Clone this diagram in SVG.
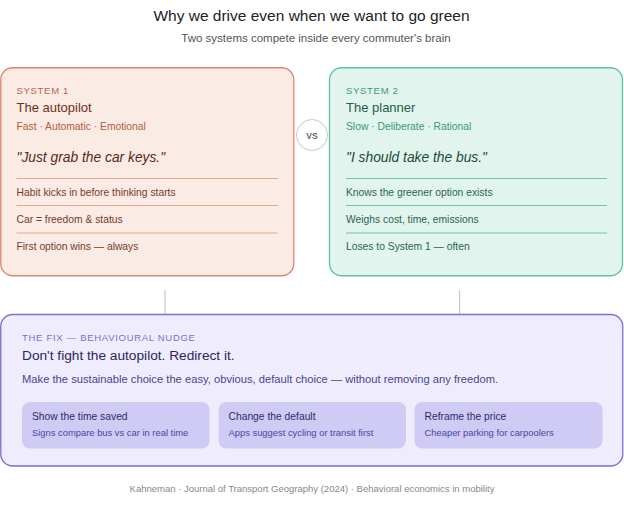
<svg xmlns="http://www.w3.org/2000/svg" width="624" height="517" viewBox="0 0 624 517">
<style>
text{font-family:"Liberation Sans",Arial,sans-serif;}
.title{font-size:15.5px;fill:#222;}
.sub{font-size:11.5px;fill:#555;}
.lbl{font-size:9.5px;letter-spacing:0.7px;}
.h{font-size:13px;}
.tag{font-size:10.3px;}
.q{font-size:13.8px;font-style:italic;}
.it{font-size:10.3px;}
.foot{font-size:9.5px;fill:#888;}
.s1 .lbl{fill:#B8664F;} .s1 .h{fill:#6E3020;} .s1 .tag{fill:#B95A3E;} .s1 .q{fill:#5A2819;} .s1 .it{fill:#7A3A28;} .s1 line{stroke:#EBA58F;stroke-width:1;}
.s2 .lbl{fill:#3D9A78;} .s2 .h{fill:#1E5E48;} .s2 .tag{fill:#3A9A76;} .s2 .q{fill:#1C4A3A;} .s2 .it{fill:#2A6450;} .s2 line{stroke:#6CC7A3;stroke-width:1;}
.fx .lbl{fill:#7B6FD0;} .fx .h{fill:#2C2660;font-size:13.7px;} .fx .body{font-size:11.2px;fill:#4A4390;}
.card{fill:#CFCBF5;}
.ct{font-size:10.3px;fill:#2F2A6A;}
.cs{font-size:9.4px;fill:#4B46A0;}
.conn line{stroke:#C8C8C8;stroke-width:1.2;}
</style>
<rect width="624" height="517" fill="#fff"/>
<text class="title" x="311.5" y="21" text-anchor="middle">Why we drive even when we want to go green</text>
<text class="sub" x="316" y="42" text-anchor="middle">Two systems compete inside every commuter's brain</text>

<g id="connectors" class="conn">
<line x1="165" y1="290" x2="165" y2="314"/>
<line x1="459.5" y1="290" x2="459.5" y2="314"/>
</g>

<g id="system1" class="s1">
<rect x="0.75" y="67.75" width="293" height="208" rx="12" fill="#FAEBE5" stroke="#E3836A" stroke-width="1.3"/>
<text class="lbl" x="16.5" y="94">SYSTEM 1</text>
<text class="h" x="16.5" y="112">The autopilot</text>
<text class="tag" x="16.5" y="130">Fast · Automatic · Emotional</text>
<text class="q" x="16.5" y="162">"Just grab the car keys."</text>
<line x1="16.5" y1="178.5" x2="278" y2="178.5"/>
<text class="it" x="16.5" y="196">Habit kicks in before thinking starts</text>
<line x1="16.5" y1="205.5" x2="278" y2="205.5"/>
<text class="it" x="16.5" y="223">Car = freedom &amp; status</text>
<line x1="16.5" y1="233" x2="278" y2="233"/>
<text class="it" x="16.5" y="250">First option wins — always</text>
</g>

<g id="vs">
<circle cx="312" cy="135" r="15.5" fill="#fff" stroke="#C8C8C8" stroke-width="1"/>
<text x="312" y="138.5" text-anchor="middle" font-size="8.5" font-weight="bold" fill="#666">VS</text>
</g>

<g id="system2" class="s2">
<rect x="329.5" y="67.75" width="293" height="208" rx="12" fill="#E2F4EE" stroke="#5EC39C" stroke-width="1.3"/>
<text class="lbl" x="346" y="94">SYSTEM 2</text>
<text class="h" x="346" y="112">The planner</text>
<text class="tag" x="346" y="130">Slow · Deliberate · Rational</text>
<text class="q" x="346" y="162">"I should take the bus."</text>
<line x1="346" y1="178.5" x2="607" y2="178.5"/>
<text class="it" x="346" y="196">Knows the greener option exists</text>
<line x1="346" y1="205.5" x2="607" y2="205.5"/>
<text class="it" x="346" y="223">Weighs cost, time, emissions</text>
<line x1="346" y1="233" x2="607" y2="233"/>
<text class="it" x="346" y="250">Loses to System 1 — often</text>
</g>

<g id="fix" class="fx">
<rect x="0.75" y="314.5" width="622" height="151.5" rx="12" fill="#EFEDFD" stroke="#7B6FD0" stroke-width="1.3"/>
<text class="lbl" x="22" y="341">THE FIX — BEHAVIOURAL NUDGE</text>
<text class="h" x="22" y="360">Don't fight the autopilot. Redirect it.</text>
<text class="body" x="22" y="383">Make the sustainable choice the easy, obvious, default choice — without removing any freedom.</text>
</g>

<g id="nudge1">
<rect class="card" x="22" y="402" width="187.5" height="46.5" rx="8"/>
<text class="ct" x="32" y="420">Show the time saved</text>
<text class="cs" x="32" y="436">Signs compare bus vs car in real time</text>
</g>
<g id="nudge2">
<rect class="card" x="218.5" y="402" width="187.5" height="46.5" rx="8"/>
<text class="ct" x="228.5" y="420">Change the default</text>
<text class="cs" x="228.5" y="436">Apps suggest cycling or transit first</text>
</g>
<g id="nudge3">
<rect class="card" x="414.5" y="402" width="188" height="46.5" rx="8"/>
<text class="ct" x="424.5" y="420">Reframe the price</text>
<text class="cs" x="424.5" y="436">Cheaper parking for carpoolers</text>
</g>

<text class="foot" x="312" y="492" text-anchor="middle">Kahneman · Journal of Transport Geography (2024) · Behavioral economics in mobility</text>
</svg>
